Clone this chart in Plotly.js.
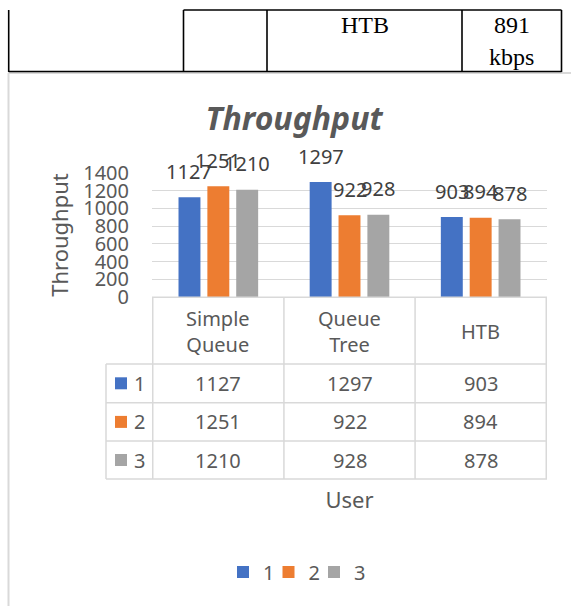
<!DOCTYPE html>
<html><head><meta charset="utf-8">
<script src="https://cdn.plot.ly/plotly-3.0.1.min.js"></script>
<style>html,body{margin:0;padding:0;background:#fff;overflow:hidden}#chart{width:571px;height:606px}</style>
</head><body><div id="chart"></div>
<script>
// ---- data ----
const categories = ['Simple Queue', 'Queue Tree', 'HTB'];
const headerLabels = ['Simple<br>Queue', 'Queue<br>Tree', 'HTB'];
const seriesNames = ['1', '2', '3'];
const user1 = [1127, 1297, 903];
const user2 = [1251, 922, 894];
const user3 = [1210, 928, 878];
const yTickValues = [0, 200, 400, 600, 800, 1000, 1200, 1400];
const topTableCells = ['HTB', '891', 'kbps'];

// ---- styling / layout helpers ----
const series = [user1, user2, user3];
const colors = ['#4472C4', '#ED7D31', '#A5A5A5'];
const FONT = 'Noto Sans';
const W = 571, H = 606;
const M = {l: 152, r: 24, t: 173, b: 309};
const PW = W - M.l - M.r, PH = H - M.t - M.b;
const px = x => (x - M.l) / PW;
const py = y => (H - M.b - y) / PH;
const BARGAP = 0.34, GROUPGAP = 0.24;
const slot = (1 - BARGAP) / series.length;

const traces = series.map((vals, i) => ({
  type: 'bar', name: seriesNames[i], x: categories, y: vals,
  marker: {color: colors[i]}, hoverinfo: 'x+y+name',
  legendwidth: i === series.length - 1 ? 20 : undefined
}));

const shapes = [];
const line = (x0, y0, x1, y1, color, width) => shapes.push({
  type: 'line', xref: 'paper', yref: 'paper',
  x0: px(x0), x1: px(x1), y0: py(y0), y1: py(y1), line: {color: color, width: width}
});

// document frame of the embedded chart
line(8.5, 73, 571, 73, '#D9D9D9', 2);
line(8.5, 73, 8.5, 606, '#D9D9D9', 2);
// top word table (black)
const K = '#000000';
line(8.7, 10, 8.7, 72, K, 1.6);
line(183.5, 10, 183.5, 72, K, 1.6);
line(267, 10, 267, 72, K, 1.6);
line(462, 10, 462, 72, K, 1.6);
line(561.5, 10, 561.5, 72, K, 1.6);
line(183.5, 10, 561.5, 10, K, 1.6);
line(8.7, 71.5, 561.5, 71.5, K, 1.6);

// data table below axis
const G = '#D9D9D9';
const rowLines = [364, 402.7, 441, 479];
const rowCenters = [383.3, 421.9, 460];
line(152, 297.3, 547, 297.3, G, 1.5);
rowLines.forEach(y => line(106, y, 547, y, G, 1.5));
line(106, 364, 106, 479, G, 1.5);
for (let k = 0; k <= categories.length; k++) {
  shapes.push({type: 'line', xref: 'x', yref: 'paper', x0: k - 0.5, x1: k - 0.5,
    y0: py(297.3), y1: py(479), line: {color: G, width: 1.5}});
}
// legend keys inside the data table
rowCenters.forEach((yc, i) => shapes.push({
  type: 'rect', xref: 'paper', yref: 'paper',
  x0: px(115), x1: px(127), y0: py(yc - 6), y1: py(yc + 6),
  fillcolor: colors[i], line: {width: 0}
}));

const annotations = [];
const txt = {family: FONT, size: 20, color: '#595959'};
// header labels
categories.forEach((c, j) => annotations.push({
  xref: 'x', yref: 'paper', x: j, y: py(331), text: headerLabels[j],
  showarrow: false, font: txt, xanchor: 'center', yanchor: 'middle'
}));
// table values and row names
series.forEach((vals, i) => {
  annotations.push({xref: 'paper', yref: 'paper', x: px(139.5), y: py(rowCenters[i]),
    text: seriesNames[i], showarrow: false, font: txt, xanchor: 'center', yanchor: 'middle'});
  vals.forEach((v, j) => annotations.push({
    xref: 'x', yref: 'paper', x: j, y: py(rowCenters[i]), text: String(v),
    showarrow: false, font: txt, xanchor: 'center', yanchor: 'middle'}));
});
// data labels above bars
series.forEach((vals, i) => vals.forEach((v, j) => annotations.push({
  xref: 'x', yref: 'y', x: j + (i - 1) * slot, y: v, yshift: 26,
  text: String(v), showarrow: false, xanchor: 'center', yanchor: 'middle',
  font: {family: FONT, size: 20, color: '#404040'}
})));
// top table text
const serif = {family: 'Liberation Serif', size: 24, color: '#000000'};
[[364.5, 25, 0], [511.5, 25, 1], [511.5, 57, 2]].forEach(([x, y, k]) => annotations.push({
  xref: 'paper', yref: 'paper', x: px(x), y: py(y), text: topTableCells[k],
  showarrow: false, font: serif, xanchor: 'center', yanchor: 'middle'}));

const layout = {
  width: W, height: H, margin: M,
  paper_bgcolor: '#ffffff', plot_bgcolor: '#ffffff',
  font: {family: FONT, color: '#595959'},
  title: {text: '<b><i>Throughput</i></b>', font: {family: FONT, size: 32, color: '#595959'},
    xref: 'container', x: 294 / W, xanchor: 'center', yref: 'container', y: 1 - 119 / H, yanchor: 'middle'},
  barmode: 'group', bargap: BARGAP, bargroupgap: GROUPGAP,
  xaxis: {type: 'category', categoryarray: categories, showticklabels: false, showgrid: false,
    zeroline: false, showline: false, ticks: '', fixedrange: true,
    title: {text: 'User', font: {family: FONT, size: 22, color: '#595959'}, standoff: 195}},
  yaxis: {range: [0, 1400], tickvals: yTickValues, ticktext: yTickValues.map(String),
    showgrid: true, gridcolor: '#D9D9D9', gridwidth: 1, zeroline: true, zerolinecolor: '#D9D9D9',
    showline: false, ticks: '', ticklabelstandoff: 22, fixedrange: true,
    tickfont: {family: FONT, size: 20, color: '#595959'},
    title: {text: 'Throughput', font: {family: FONT, size: 22, color: '#595959'}, standoff: 8}},
  showlegend: true,
  legend: {orientation: 'h', xref: 'container', yref: 'container', x: 223 / W, xanchor: 'left',
    y: 1 - 572 / H, yanchor: 'middle', entrywidth: 0.5, entrywidthmode: 'pixels',
    font: {family: FONT, size: 20, color: '#595959'}, bgcolor: 'rgba(0,0,0,0)'},
  shapes: shapes, annotations: annotations
};
Plotly.newPlot('chart', traces, layout, {displayModeBar: false, staticPlot: true});
</script></body></html>
